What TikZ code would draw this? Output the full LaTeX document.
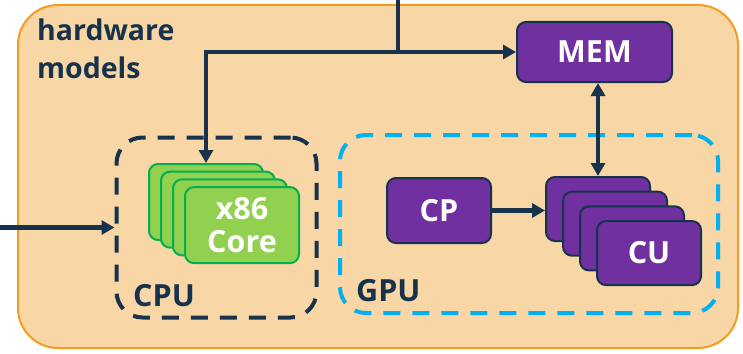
\documentclass[tikz,border=0pt]{standalone}
\usepackage{fontspec}
\setmainfont{Open Sans}
\usetikzlibrary{arrows.meta, positioning, calc}

\begin{document}
\begin{tikzpicture}[
    x=1pt, y=-1pt,
    font=\bfseries\fontsize{30.5}{37}\selectfont,
    >={Triangle[length=13pt, width=14pt]},
    % Define colors
    /utils/exec={
        \definecolor{hwNavy}{RGB}{23, 50, 77}
        \definecolor{hwPurple}{RGB}{112, 48, 160}
        \definecolor{hwGreen}{RGB}{146, 208, 80}
        \definecolor{hwGreenLine}{RGB}{0, 176, 80}
        \definecolor{hwCyan}{RGB}{0, 176, 240}
        \definecolor{hwOrange}{RGB}{247, 155, 30}
        \definecolor{hwSand}{RGB}{248, 214, 165}
    },
    % Node Styles
    unit/.style={
        draw=hwNavy, line width=2pt, rounded corners=9pt,
        fill=hwPurple, text=white, align=center, inner sep=0pt
    },
    core/.style={
        draw=hwGreenLine, line width=2pt, rounded corners=9pt,
        fill=hwGreen, text=white, align=center, inner sep=0pt,
        minimum width=114pt, minimum height=76pt
    },
    cubox/.style={unit, minimum width=104pt, minimum height=64pt},
    group/.style={
        line width=4pt, rounded corners=26pt, dash pattern=on 17pt off 12pt,
        inner sep=0pt
    },
    label/.style={text=hwNavy, inner sep=0pt},
    conn/.style={->, line width=4.5pt, draw=hwNavy},
    both/.style={<->, line width=4.5pt, draw=hwNavy}
]
\useasboundingbox (0,0) rectangle (743,353);

% =================================================================
% OUTER FRAME
% =================================================================
\node[draw=hwOrange, line width=2pt, fill=hwSand, rounded corners=40pt,
      minimum width=720pt, minimum height=343pt] (hwBox) at (378, 176.5) {};
\node[label, anchor=north west, align=left, font=\bfseries\fontsize{28.5}{38}\selectfont] (hwLabel) at (37, 19) {hardware\\models};

% --- Memory ---
\node[unit, minimum width=155pt, minimum height=60pt] (mem) at (594.5, 52) {MEM};

% =================================================================
% CPU
% =================================================================
\node[group, draw=hwNavy, minimum width=200pt, minimum height=180pt] (cpu) at (216.5, 227.5) {};
\node[label, anchor=base west] (cpuLabel) at (133, 306) {CPU};

% Stack of cores, back to front
\foreach \i in {1,2,3} {
    \node[core] (core\i) at ({206 + 12*(\i-1)}, {202 + 7.7*(\i-1)}) {};
}
\node[core] (core4) at (242, 225.1) {x86\\[-4pt]Core};

% =================================================================
% GPU
% =================================================================
\node[group, draw=hwCyan, minimum width=378pt, minimum height=178pt] (gpu) at (529, 224) {};
\node[label, anchor=base west] (gpuLabel) at (356, 301) {GPU};

\node[unit, minimum width=104pt, minimum height=65pt] (cp) at (439, 210.5) {CP};

% Stack of compute units, back to front
\foreach \i in {1,2,3} {
    \node[cubox] (cu\i) at ({598 + 17*(\i-1)}, {209 + 14.7*(\i-1)}) {};
}
\node[cubox] (cu4) at (649, 253.1) {CU};

% =================================================================
% CONNECTIONS
% =================================================================
\coordinate (feed) at (398, 0);
\coordinate (hostIn) at (0, 227.5);

\draw[conn] (feed) |- (mem.west);
\draw[conn] (feed |- mem.west) -| (core1.north);
\draw[conn] (hostIn) -- (cpu.west);
\draw[conn] (cp.east) -- (cp.east -| cu1.west);
\draw[both] (cu1.north) -- (cu1.north |- mem.south);

\end{tikzpicture}
\end{document}
